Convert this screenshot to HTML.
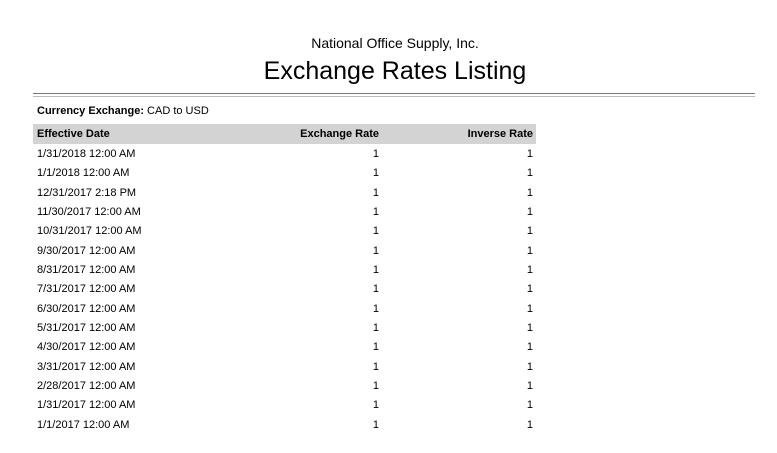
<!DOCTYPE html>
<html><head><style>
body{margin:0;width:777px;height:453px;background:#fff;font-family:"Liberation Sans",sans-serif;color:#000;position:relative;overflow:hidden}
.a{position:absolute;white-space:nowrap}
.r{position:absolute;left:33px;width:503px;height:19px;font-size:11px;line-height:19px}
.r span{position:absolute}
.c1{left:4px}.c2{right:157px}.c3{right:3px}
</style></head><body>
<div class="a" style="left:0;width:790px;text-align:center;top:35px;font-size:14px">National Office Supply, Inc.</div>
<div class="a" style="left:0;width:790px;text-align:center;top:57px;font-size:25px">Exchange Rates Listing</div>
<div class="a" style="left:33px;top:93px;width:722px;height:1px;background:#777"></div>
<div class="a" style="left:33px;top:96px;width:722px;height:1px;background:#bbb"></div>
<div class="a" style="left:37px;top:105px;font-size:11px"><b>Currency Exchange:</b> CAD to USD</div>
<div class="r" style="top:124px;height:20px;line-height:20px;background:#d3d3d3;font-weight:bold"><span class="c1">Effective Date</span><span class="c2">Exchange Rate</span><span class="c3">Inverse Rate</span></div>
<div class="r" style="top:145px"><span class="c1">1/31/2018 12:00 AM</span><span class="c2">1</span><span class="c3">1</span></div>
<div class="r" style="top:164px"><span class="c1">1/1/2018 12:00 AM</span><span class="c2">1</span><span class="c3">1</span></div>
<div class="r" style="top:184px"><span class="c1">12/31/2017 2:18 PM</span><span class="c2">1</span><span class="c3">1</span></div>
<div class="r" style="top:203px"><span class="c1">11/30/2017 12:00 AM</span><span class="c2">1</span><span class="c3">1</span></div>
<div class="r" style="top:222px"><span class="c1">10/31/2017 12:00 AM</span><span class="c2">1</span><span class="c3">1</span></div>
<div class="r" style="top:242px"><span class="c1">9/30/2017 12:00 AM</span><span class="c2">1</span><span class="c3">1</span></div>
<div class="r" style="top:261px"><span class="c1">8/31/2017 12:00 AM</span><span class="c2">1</span><span class="c3">1</span></div>
<div class="r" style="top:280px"><span class="c1">7/31/2017 12:00 AM</span><span class="c2">1</span><span class="c3">1</span></div>
<div class="r" style="top:300px"><span class="c1">6/30/2017 12:00 AM</span><span class="c2">1</span><span class="c3">1</span></div>
<div class="r" style="top:319px"><span class="c1">5/31/2017 12:00 AM</span><span class="c2">1</span><span class="c3">1</span></div>
<div class="r" style="top:338px"><span class="c1">4/30/2017 12:00 AM</span><span class="c2">1</span><span class="c3">1</span></div>
<div class="r" style="top:358px"><span class="c1">3/31/2017 12:00 AM</span><span class="c2">1</span><span class="c3">1</span></div>
<div class="r" style="top:377px"><span class="c1">2/28/2017 12:00 AM</span><span class="c2">1</span><span class="c3">1</span></div>
<div class="r" style="top:396px"><span class="c1">1/31/2017 12:00 AM</span><span class="c2">1</span><span class="c3">1</span></div>
<div class="r" style="top:416px"><span class="c1">1/1/2017 12:00 AM</span><span class="c2">1</span><span class="c3">1</span></div>
</body></html>
